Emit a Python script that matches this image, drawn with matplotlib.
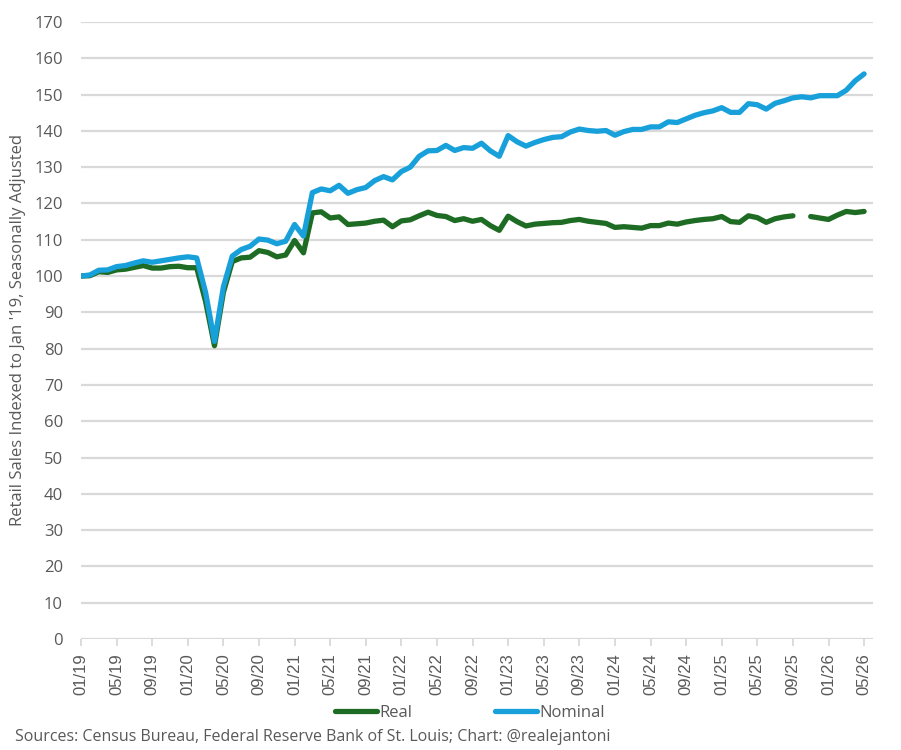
import numpy as np
import matplotlib.pyplot as plt

# Retail sales, indexed to Jan 2019 = 100, monthly from 01/19 to 05/26
months = [f"{m:02d}/{y % 100:02d}" for y in range(2019, 2027) for m in range(1, 13)][:89]

nominal = [100.0, 100.3, 101.6, 101.7, 102.6, 102.9, 103.6, 104.2, 103.8, 104.2,
           104.6, 105.0, 105.3, 105.0, 95.5, 82.0, 97.0, 105.5, 107.3, 108.2,
           110.2, 109.9, 108.9, 109.6, 114.2, 111.0, 123.0, 124.0, 123.5, 125.0,
           122.8, 123.8, 124.4, 126.3, 127.4, 126.5, 128.8, 130.0, 133.0, 134.5,
           134.6, 136.0, 134.6, 135.4, 135.2, 136.6, 134.5, 133.0, 138.7, 137.0,
           135.8, 136.8, 137.6, 138.2, 138.4, 139.7, 140.5, 140.1, 139.9, 140.1,
           138.8, 139.8, 140.4, 140.4, 141.1, 141.1, 142.5, 142.3, 143.3, 144.3,
           145.0, 145.5, 146.4, 145.1, 145.1, 147.5, 147.2, 146.0, 147.6, 148.3,
           149.1, 149.4, 149.1, 149.7, 149.7, 149.7, 151.2, 153.8, 155.7]

real = [100.0, 100.1, 101.2, 101.0, 101.7, 101.9, 102.4, 102.9, 102.2, 102.2,
        102.6, 102.7, 102.3, 102.3, 93.0, 80.8, 95.5, 104.0, 105.0, 105.2,
        107.0, 106.5, 105.3, 105.8, 109.8, 106.4, 117.4, 117.7, 116.0, 116.3,
        114.2, 114.4, 114.6, 115.1, 115.4, 113.6, 115.2, 115.5, 116.6, 117.6,
        116.7, 116.4, 115.3, 115.8, 115.1, 115.6, 113.9, 112.6, 116.5, 115.0,
        113.8, 114.3, 114.5, 114.7, 114.8, 115.3, 115.6, 115.1, 114.8, 114.5,
        113.4, 113.6, 113.4, 113.2, 113.9, 113.9, 114.6, 114.3, 114.9, 115.3,
        115.6, 115.8, 116.4, 115.0, 114.8, 116.6, 116.1, 114.8, 115.8, 116.3,
        116.6, np.nan, 116.4, 116.0, 115.6, 116.8, 117.8, 117.5, 117.8]

green = '#1E6B24'
blue = '#18A0DA'
grid_col = '#D9D9D9'
text_col = '#595959'

fig = plt.figure(figsize=(9.01, 7.5), dpi=100)
ax = fig.add_axes([81 / 901, 1 - 639 / 750, 792 / 901, 617 / 750])

x = np.arange(len(months))
ax.plot(x, real, color=green, lw=3.8, label='Real', solid_capstyle='round', solid_joinstyle='round')
ax.plot(x, nominal, color=blue, lw=3.8, label='Nominal', solid_capstyle='round', solid_joinstyle='round')

ax.set_ylim(0, 170)
ax.set_xlim(0, 89.0)
ax.set_yticks(range(0, 171, 10))
ax.yaxis.grid(True, color=grid_col, lw=1.6)
ax.set_axisbelow(True)
for s in ax.spines.values():
    s.set_visible(False)

ax.set_xticks(x[::4])
ax.set_xticklabels(months[::4], rotation=90, fontsize=12, color=text_col,
                   fontfamily='Liberation Sans')
ax.tick_params(axis='x', length=5, width=1.3, color=grid_col, pad=5)
ax.tick_params(axis='y', length=0, pad=13, labelsize=12, labelcolor=text_col)
for lbl in ax.get_yticklabels():
    lbl.set_fontfamily('Open Sans')

fig.text(18 / 901, 1 - 330 / 750, "Retail Sales Indexed to Jan '19, Seasonally Adjusted",
         rotation=90, ha='center', va='center', fontsize=12, color=text_col, fontfamily='Open Sans')

fig.legend(loc='center', bbox_to_anchor=(470 / 901, 1 - 713 / 750), ncol=2, frameon=False,
           handlelength=2.5, handletextpad=0.15, columnspacing=5.0,
           prop={'family': 'Open Sans', 'size': 12}, labelcolor=text_col)

fig.text(15 / 901, 1 - 737 / 750, "Sources: Census Bureau, Federal Reserve Bank of St. Louis; Chart: @realejantoni",
         ha='left', va='center', fontsize=11.5, color=text_col, fontfamily='Open Sans')

fig.savefig('out.png', dpi=100)
